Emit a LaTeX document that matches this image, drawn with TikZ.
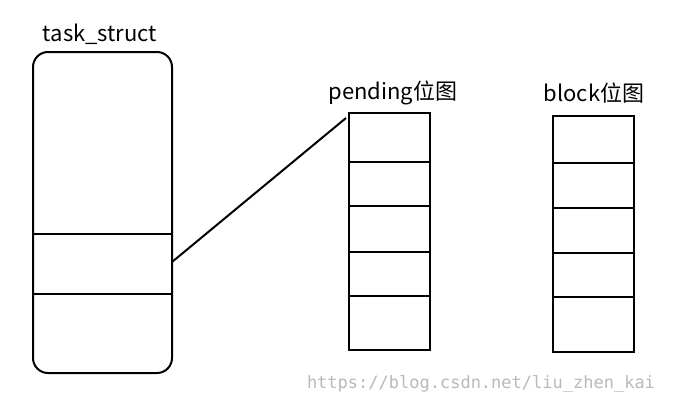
\documentclass[tikz,border=0pt]{standalone}
\usepackage{fontspec}
\newfontfamily\cjk{Noto Sans CJK SC}
\newfontfamily\wm{DejaVu Sans Mono}
\begin{document}
\begin{tikzpicture}[x=1pt,y=-1pt,
  box/.style={draw,line width=2pt},
  lbl/.style={font=\cjk\fontsize{22}{24}\selectfont,inner sep=0}]
\useasboundingbox[fill=white] (0,0) rectangle (674,405);
\draw[box,rounded corners=15pt] (33,52) rectangle (172,373);
\draw[box] (33,234) rectangle (172,294);
\node[lbl] (t) at (100,34) {task\_struct};
\coordinate (ts) at (172,262);
% pending
\draw[box] (349,113) rectangle (430,350);
\foreach \y in {162,206,252,296} \draw[box] (349,\y) -- (430,\y);
\coordinate (pe) at (346,118);
\node[lbl] (p) at (393,93) {pending位图};
% block
\draw[box] (553,116) rectangle (634,352);
\foreach \y in {163,208,253,297} \draw[box] (553,\y) -- (634,\y);
\node[lbl] (b) at (594,93) {block位图};
\draw[line width=2pt] (ts) -- (pe);
\node[font=\wm\fontsize{17}{19}\selectfont,text=gray!55,inner sep=0] (w) at (481,384) {https://blog.csdn.net/liu\_zhen\_kai};
\end{tikzpicture}
\end{document}
